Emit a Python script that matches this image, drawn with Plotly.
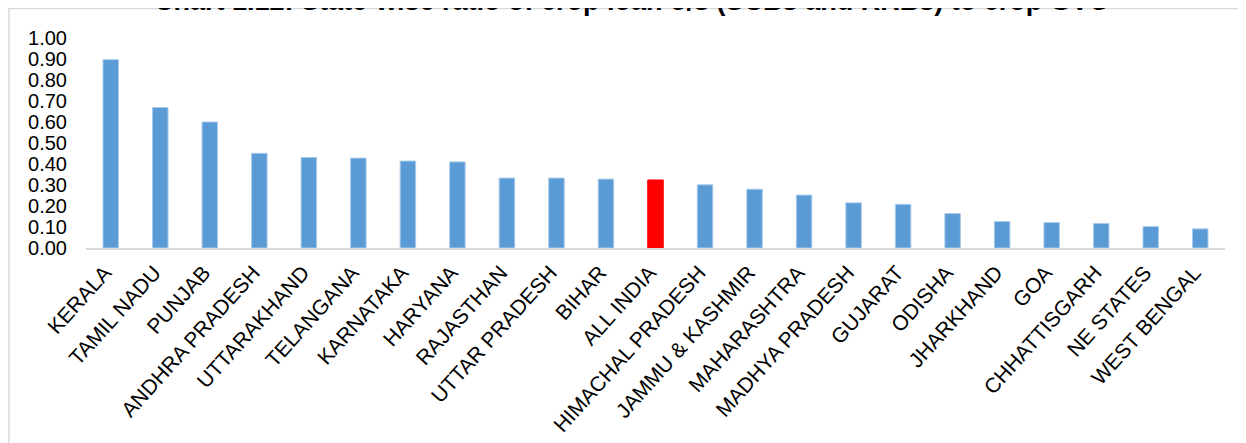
import plotly.graph_objects as go

# state-wise ratio of crop loan o/s to crop GVO
states = ['KERALA', 'TAMIL NADU', 'PUNJAB', 'ANDHRA PRADESH', 'UTTARAKHAND', 'TELANGANA',
          'KARNATAKA', 'HARYANA', 'RAJASTHAN', 'UTTAR PRADESH', 'BIHAR', 'ALL INDIA',
          'HIMACHAL PRADESH', 'JAMMU & KASHMIR', 'MAHARASHTRA', 'MADHYA PRADESH', 'GUJARAT',
          'ODISHA', 'JHARKHAND', 'GOA', 'CHHATTISGARH', 'NE STATES', 'WEST BENGAL']
ratio = [0.897, 0.669, 0.600, 0.451, 0.431, 0.428, 0.414, 0.410, 0.333, 0.333, 0.328, 0.324,
         0.301, 0.280, 0.252, 0.215, 0.208, 0.164, 0.126, 0.121, 0.117, 0.102, 0.091]
y_ticks = [0.0, 0.1, 0.2, 0.3, 0.4, 0.5, 0.6, 0.7, 0.8, 0.9, 1.0]
highlight = 'ALL INDIA'

title = 'Chart 1.12: State-wise ratio of crop loan o/s (SCBs and RRBs) to crop GVO'

bar_colors = ['#FF0000' if s == highlight else '#5B9BD5' for s in states]
edge_colors = ['#FF0000' if s == highlight else '#A9CBEB' for s in states]

fig = go.Figure(go.Bar(
    x=states,
    y=ratio,
    marker=dict(color=bar_colors, line=dict(color=edge_colors, width=1)),
))

font_main = 'Liberation Sans, Arial, sans-serif'

# the page body has an 8px margin, so the figure is a little smaller and margins are trimmed
fig.update_layout(
    width=1238,
    height=435,
    margin=dict(l=78, r=21, t=30, b=194.5),
    plot_bgcolor='white',
    paper_bgcolor='white',
    bargap=0.687,
    showlegend=False,
    font=dict(family=font_main, color='black', size=20),
    xaxis=dict(
        automargin=False,
        tickangle=-48,
        showline=True,
        linecolor='#D9D9D9',
        linewidth=2,
        showgrid=False,
        ticks='',
        tickfont=dict(size=21),
        ticklabelstandoff=2,
        ticklabelshift=-6,
    ),
    yaxis=dict(
        automargin=False,
        range=[0, 1.0],
        tickvals=y_ticks,
        tickformat='.2f',
        showgrid=False,
        zeroline=False,
        showline=False,
        ticks='',
        ticklabelstandoff=18,
        tickfont=dict(size=20),
    ),
)

# outer chart frame
fig.add_shape(type='rect', xref='paper', yref='paper',
              x0=-0.0676, x1=1.03, y0=-1.0, y1=1.140,
              line=dict(color='#D9D9D9', width=1.5), layer='below')

# title sits partly above the page edge, as in the source
fig.add_annotation(text='<b>' + title + '</b>', xref='paper', yref='paper',
                   x=0.479, y=1.176, xanchor='center', yanchor='middle',
                   showarrow=False, font=dict(size=27, family=font_main))

fig.write_html('out.html')
